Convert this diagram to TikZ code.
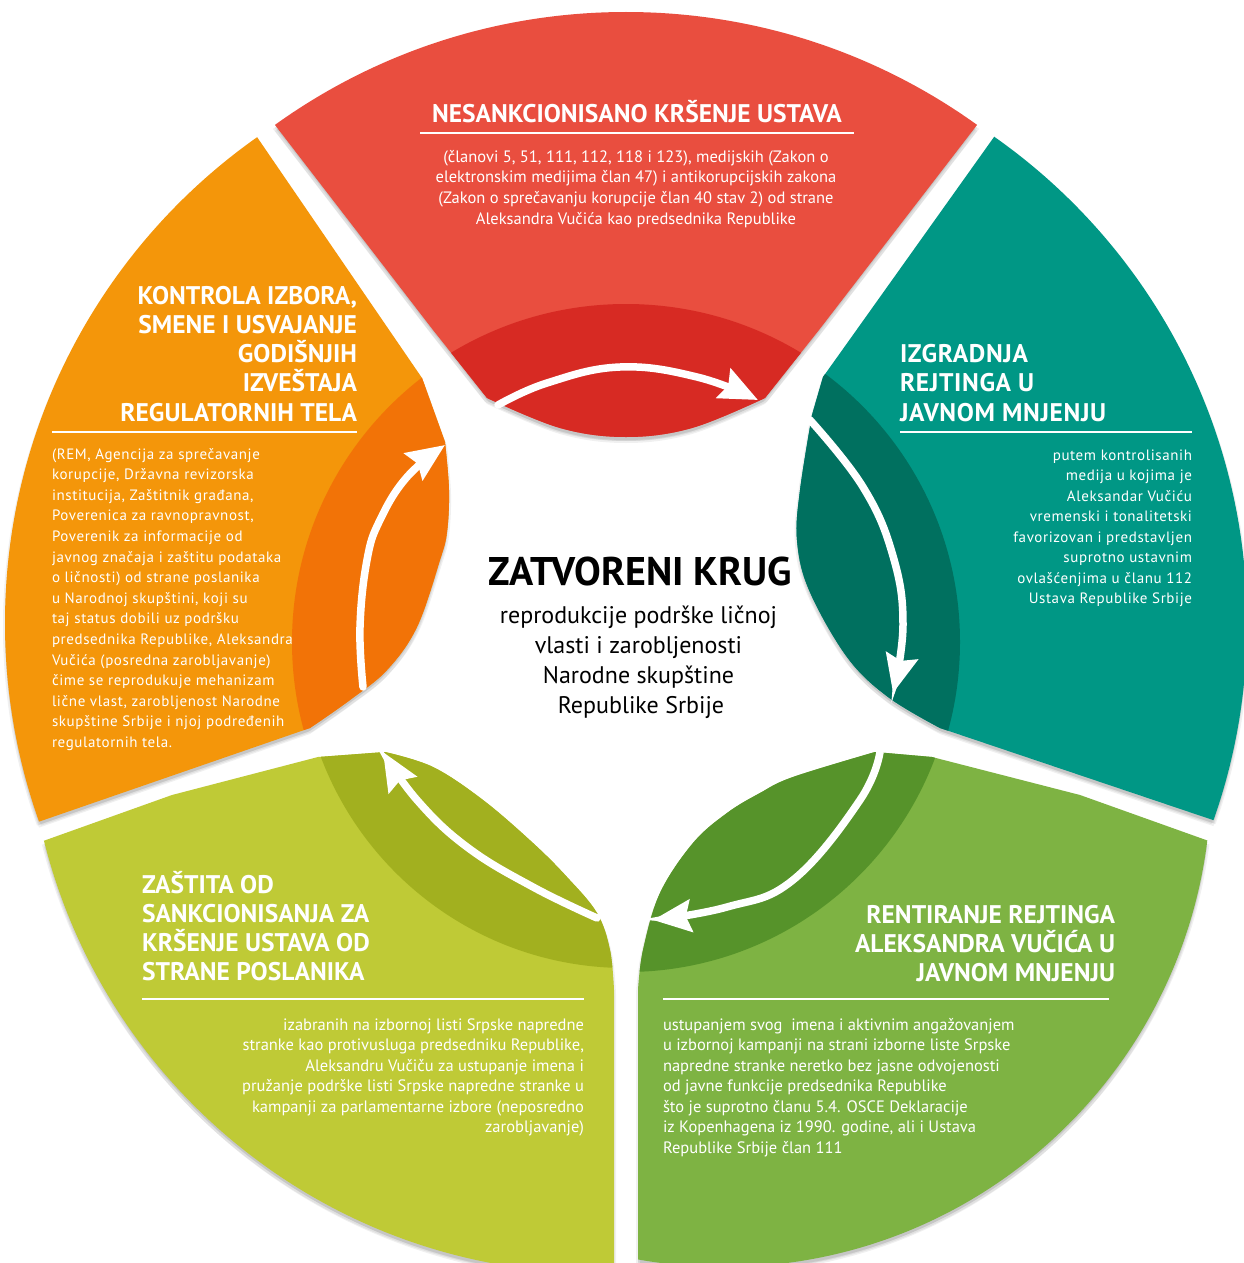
\documentclass[tikz,border=0pt]{standalone}
\usepackage{fontspec}
\setmainfont{PT Sans}
\newfontfamily\widefont[LetterSpace=4]{PT Sans}
\newfontfamily\widettl[LetterSpace=2.5]{PT Sans}
\usetikzlibrary{arrows.meta}
\definecolor{redL}{HTML}{E94E3F}
\definecolor{redD}{HTML}{D72A23}
\definecolor{tealL}{HTML}{009785}
\definecolor{tealD}{HTML}{00705F}
\definecolor{greenL}{HTML}{7EB343}
\definecolor{greenD}{HTML}{56932A}
\definecolor{yellowL}{HTML}{BFCA36}
\definecolor{yellowD}{HTML}{A2B01F}
\definecolor{orangeL}{HTML}{F4960A}
\definecolor{orangeD}{HTML}{F27307}
\tikzset{
  red path/.style={insert path={(183,6) -- (275,125) -- (433,330) -- (487,398) -- plot[smooth,tension=.6] coordinates {(487,398) (560,428) (626,437) (692,428) (765,398)} -- (819,330) -- (977,125) -- (1069,6) -- (626,-150) -- cycle}},
  red outer/.style={insert path={(626,614) circle[radius=602pt]}},
  teal path/.style={insert path={(1081,15) -- (994,137) -- (823,377) -- plot[smooth,tension=.6] coordinates {(812,415) (800,490) (797,540) (809,590) (847,657) (888,697) (940,728)} -- (1213,820) -- (1355,868) -- (1450,300) -- cycle}},
  teal outer/.style={insert path={(653,623) circle[radius=594pt]}},
  green path/.style={insert path={(1347,890) -- (1206,840) -- (1080,795) -- (932,757) -- plot[smooth,tension=.6] coordinates {(875,752) (793,777) (760,793) (727,813) (693,843) (660,893) (643,950) (638,990)} -- (638,1350) -- (1000,1400) -- cycle}},
  green outer/.style={insert path={(724,780) circle[radius=487pt]}},
  yellow path/.style={insert path={(-95,890) -- (46,840) -- (172,795) -- (318,757) -- plot[smooth,tension=.6] coordinates {(385,752) (433,767) (483,800) (533,843) (567,877) (597,913) (610,950) (614,990)} -- (614,1350) -- (250,1400) -- cycle}},
  yellow outer/.style={insert path={(598,702) circle[radius=571pt]}},
  orange path/.style={insert path={(172,13) -- (257,137) -- (422,378) -- plot[smooth,tension=.6] coordinates {(445,442) (449,490) (447,532) (440,560) (417,627) (387,670) (350,700) (310,728)} -- (38,822) -- (-104,871) -- (-200,300) -- cycle}},
  orange outer/.style={insert path={(599,623) circle[radius=594pt]}},
  txt/.style={inner sep=0pt, outer sep=0pt, text=white},
  ttl/.style={txt, font=\fontsize{25.5}{29}\selectfont\bfseries},
  wttl/.style={txt, font=\widettl\fontsize{25.5}{29}\selectfont\bfseries},
  bodyc/.style={txt, font=\fontsize{16.5}{20}\selectfont},
  bodyw/.style={txt, font=\widefont\fontsize{15}{20}\selectfont},
  uline/.style={white, line width=2.5pt},
  flow/.style={white, line width=7.5pt, line cap=round, -{Stealth[length=38pt,width=32pt,inset=5pt]}}
}
\newcommand\segshadow[1]{%
  \foreach \dx/\dy in {0/3,0/6,-2/4,2/4}{%
    \begin{scope}[shift={(\dx,\dy)}]
      \clip[#1 outer];
      \fill[black,opacity=.06,#1 path];
    \end{scope}}}
\newcommand\drawseg[2]{%
  \begin{scope}
    \clip[#1 outer];
    \clip[#1 path];
    \fill[#1L] (-10,-10) rectangle (1254,1273);
    \fill[#1D] (626,642) circle[radius=#2pt];
  \end{scope}}
\begin{document}
\begin{tikzpicture}[x=1pt,y=-1pt]
\useasboundingbox (0,0) rectangle (1244,1263);
\fill[white] (0,0) rectangle (1244,1263);
% shadows
\segshadow{red}
\segshadow{teal}
\segshadow{green}
\segshadow{yellow}
\segshadow{orange}
% segments
\drawseg{red}{338}
\drawseg{teal}{334}
\drawseg{green}{330}
\drawseg{yellow}{326}
\drawseg{orange}{334}
% arrows
\draw[flow] plot[smooth,tension=.7] coordinates {(498,405) (547,383) (620,367) (697,377) (758,400)};
\draw[flow] plot[smooth,tension=.7] coordinates {(810,420) (863,487) (893,556) (903,625) (893,693)};
\draw[flow] plot[smooth,tension=.7] coordinates {(880,752) (860,800) (793,880) (727,907) (653,920)};
\draw[flow] plot[smooth,tension=.7] coordinates {(597,918) (533,887) (467,847) (417,800) (383,752)};
\draw[flow] plot[smooth,tension=.7] coordinates {(363,687) (360,627) (367,560) (380,520) (407,477) (445,445)};
% red texts
\node[ttl, anchor=base] (rt) at (637,122) {NESANKCIONISANO KRŠENJE USTAVA};
\draw[uline] (420,133) -- (854,133);
\foreach \lin [count=\i from 0] in {{(članovi 5, 51, 111, 112, 118 i 123), medijskih (Zakon o},{elektronskim medijima član 47) i antikorupcijskih zakona},{(Zakon o sprečavanju korupcije član 40 stav 2) od strane},{Aleksandra Vučića kao predsednika Republike}}
  \node[bodyc, anchor=base] (rb\i) at (636,{162+20.7*\i}) {\lin};
% teal texts
\foreach \lin [count=\i from 0] in {IZGRADNJA,REJTINGA U,JAVNOM MNJENJU}
  \node[wttl, anchor=base west] (tt\i) at (900,{362+29.5*\i}) {\lin};
\draw[uline] (900,432) -- (1192,432);
\foreach \lin [count=\i from 0] in {putem kontrolisanih,medija u kojima je,Aleksandar Vučiću,vremenski i tonalitetski,favorizovan i predstavljen,suprotno ustavnim,ovlašćenjima u članu 112,Ustava Republike Srbije}
  \node[bodyw, anchor=base east] (tb\i) at (1192,{460+20.5*\i}) {\lin};
% orange texts
\foreach \lin [count=\i from 0] in {{KONTROLA IZBORA,},SMENE I USVAJANJE,GODIŠNJIH,IZVEŠTAJA,REGULATORNIH TELA}
  \node[ttl, anchor=base east] (ot\i) at (357,{304+29.3*\i}) {\lin};
\draw[uline] (52,432) -- (357,432);
\foreach \lin [count=\i from 0] in {{(REM, Agencija za sprečavanje},{korupcije, Državna revizorska},{institucija, Zaštitnik građana,},{Poverenica za ravnopravnost,},Poverenik za informacije od,javnog značaja i zaštitu podataka,o ličnosti) od strane poslanika,{u Narodnoj skupštini, koji su},taj status dobili uz podršku,{predsednika Republike, Aleksandra},Vučića (posredna zarobljavanje),čime se reprodukuje mehanizam,{lične vlast, zarobljenost Narodne},skupštine Srbije i njoj podređenih,regulatornih tela.}
  \node[bodyw, anchor=base west] (ob\i) at (52,{459+20.6*\i}) {\lin};
% green texts
\foreach \lin [count=\i from 0] in {RENTIRANJE REJTINGA,ALEKSANDRA VUČIĆA U,JAVNOM MNJENJU}
  \node[ttl, anchor=base east] (gt\i) at (1115,{923+29.2*\i}) {\lin};
\draw[uline] (663,999) -- (1109,999);
\foreach \lin [count=\i from 0] in {ustupanjem svog~ imena i aktivnim angažovanjem,u izbornoj kampanji na strani izborne liste Srpske,napredne stranke neretko bez jasne odvojenosti,od javne funkcije predsednika Republike,što je suprotno članu 5.4. OSCE Deklaracije,{iz Kopenhagena iz 1990. godine, ali i Ustava},Republike Srbije član 111}
  \node[bodyc, anchor=base west] (gb\i) at (663,{1030+20.5*\i}) {\lin};
% yellow texts
\foreach \lin [count=\i from 0] in {ZAŠTITA OD,SANKCIONISANJA ZA,KRŠENJE USTAVA OD,STRANE POSLANIKA}
  \node[ttl, anchor=base west] (yt\i) at (142,{893+29.3*\i}) {\lin};
\draw[uline] (142,999) -- (584,999);
\foreach \lin [count=\i from 0] in {izabranih na izbornoj listi Srpske napredne,{stranke kao protivusluga predsedniku Republike,},Aleksandru Vučiču za ustupanje imena i,pružanje podrške listi Srpske napredne stranke u,kampanji za parlamentarne izbore (neposredno,zarobljavanje)}
  \node[bodyc, anchor=base east] (yb\i) at (584,{1030+20.5*\i}) {\lin};
% center
\node[inner sep=0pt, anchor=base, font=\fontsize{40}{42}\selectfont\bfseries] (ct) at (640.5,585) {ZATVORENI KRUG};
\foreach \lin/\xx [count=\i from 0] in {reprodukcije podrške ličnoj/638.5,vlasti i zarobljenosti/638.5,Narodne skupštine/638.5,Republike Srbije/641}
  \node[inner sep=0pt, anchor=base, font=\fontsize{24}{30}\selectfont] (cs\i) at (\xx,{623+30*\i}) {\lin};
\end{tikzpicture}
\end{document}
